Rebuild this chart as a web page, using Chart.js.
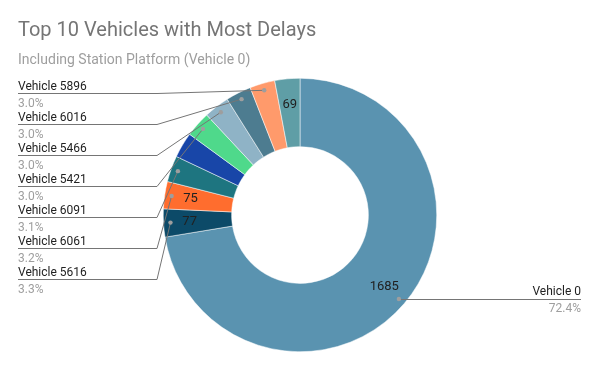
<!DOCTYPE html>
<html>
<head>
<meta charset="utf-8">
<title>Top 10 Vehicles with Most Delays</title>
<script src="https://cdn.jsdelivr.net/npm/chart.js@4/dist/chart.umd.min.js"></script>
<style>
  html, body { margin: 0; padding: 0; background: #fff; }
  #wrap { width: 600px; height: 371px; position: relative; }
</style>
</head>
<body>
<div id="wrap"><canvas id="myChart"></canvas></div>
<script>
// names of two slices are not printed in the picture, so they stay empty
const vehicles = ['Vehicle 0', 'Vehicle 5616', 'Vehicle 6061', 'Vehicle 6091', '',
                  'Vehicle 5421', 'Vehicle 5466', 'Vehicle 6016', 'Vehicle 5896', ''];
const delays = [1685, 77, 75, 72, 70, 70, 70, 70, 69, 69];
const sliceColors = ['#5a93b0', '#0c4a68', '#ff6d2e', '#1e7580', '#1846a8',
                     '#4fd98b', '#8fb3c6', '#4d7c90', '#ff9a6b', '#5f9ea6'];
// slices whose value is written inside the ring
const valueShown = [0, 1, 2, 9];

const font = 'Roboto';

const callouts = {
    id: 'callouts',
    afterDatasetsDraw(chart) {
        const ctx = chart.ctx;
        const meta = chart.getDatasetMeta(0);
        const total = delays.reduce((a, b) => a + b, 0);
        const leftSide = [];
        ctx.save();
        meta.data.forEach((arc, i) => {
            const p = arc.getProps(['x', 'y', 'startAngle', 'endAngle', 'innerRadius', 'outerRadius'], true);
            const mid = (p.startAngle + p.endAngle) / 2;

            if (valueShown.includes(i)) {
                const r = (p.innerRadius + p.outerRadius) / 2 + 8;
                ctx.fillStyle = '#212121';
                ctx.font = '13px ' + font;
                ctx.textAlign = 'center';
                ctx.textBaseline = 'middle';
                ctx.fillText(String(delays[i]), p.x + Math.cos(mid) * r, p.y + Math.sin(mid) * r);
            }

            if (!vehicles[i]) return;
            const dot = {
                x: p.x + Math.cos(mid) * (p.outerRadius - 7),
                y: p.y + Math.sin(mid) * (p.outerRadius - 7)
            };
            const pct = (delays[i] / total * 100).toFixed(1) + '%';

            if (dot.x > p.x) {
                const endX = chart.width - 19;
                ctx.strokeStyle = '#757575';
                ctx.lineWidth = 1;
                ctx.beginPath();
                ctx.moveTo(dot.x, Math.round(dot.y) + 0.5);
                ctx.lineTo(endX, Math.round(dot.y) + 0.5);
                ctx.stroke();
                ctx.textAlign = 'right';
                ctx.textBaseline = 'alphabetic';
                ctx.font = '12px ' + font;
                ctx.fillStyle = '#222222';
                ctx.fillText(vehicles[i], endX, dot.y - 4);
                ctx.fillStyle = '#9e9e9e';
                ctx.fillText(pct, endX, dot.y + 13);
                drawDot(ctx, dot);
            } else {
                leftSide.push({ i, dot, pct });
            }
        });

        leftSide.sort((a, b) => a.dot.y - b.dot.y);
        leftSide.forEach((l, k) => {
            const y = 93.5 + k * 31;
            ctx.strokeStyle = '#757575';
            ctx.lineWidth = 1;
            ctx.beginPath();
            ctx.moveTo(18, y);
            ctx.lineTo(157, y);
            ctx.lineTo(l.dot.x, l.dot.y);
            ctx.stroke();
            ctx.textAlign = 'left';
            ctx.textBaseline = 'alphabetic';
            ctx.font = '12px ' + font;
            ctx.fillStyle = '#222222';
            ctx.fillText(vehicles[l.i], 18, y - 4);
            ctx.fillStyle = '#9e9e9e';
            ctx.fillText(l.pct, 18, y + 13);
            drawDot(ctx, l.dot);
        });
        ctx.restore();
    }
};

function drawDot(ctx, dot) {
    ctx.fillStyle = '#9e9e9e';
    ctx.beginPath();
    ctx.arc(dot.x, dot.y, 2.2, 0, Math.PI * 2);
    ctx.fill();
}

const data = {
    labels: vehicles,
    datasets: [{
        data: delays,
        backgroundColor: sliceColors,
        borderColor: '#ffffff',
        borderWidth: 0.5,
        hoverOffset: 0
    }]
};

const config = {
    type: 'doughnut',
    data: data,
    options: {
        responsive: true,
        maintainAspectRatio: false,
        animation: false,
        cutout: '50%',
        layout: { padding: { top: 19, bottom: 19, left: 18, right: 18 } },
        plugins: {
            legend: { display: false },
            tooltip: { enabled: false },
            title: {
                display: true,
                text: 'Top 10 Vehicles with Most Delays',
                align: 'start',
                color: '#757575',
                font: { family: font, size: 20, weight: 'normal', lineHeight: 1.2 },
                padding: { top: 0, bottom: 8.6 }
            },
            subtitle: {
                display: true,
                text: 'Including Station Platform (Vehicle 0)',
                align: 'start',
                color: '#9e9e9e',
                font: { family: font, size: 14, weight: 'normal', lineHeight: 1.2 },
                padding: { top: 0, bottom: 9.6 }
            }
        }
    },
    plugins: [callouts]
};

const myChart = new Chart(document.getElementById('myChart'), config);
</script>
</body>
</html>
